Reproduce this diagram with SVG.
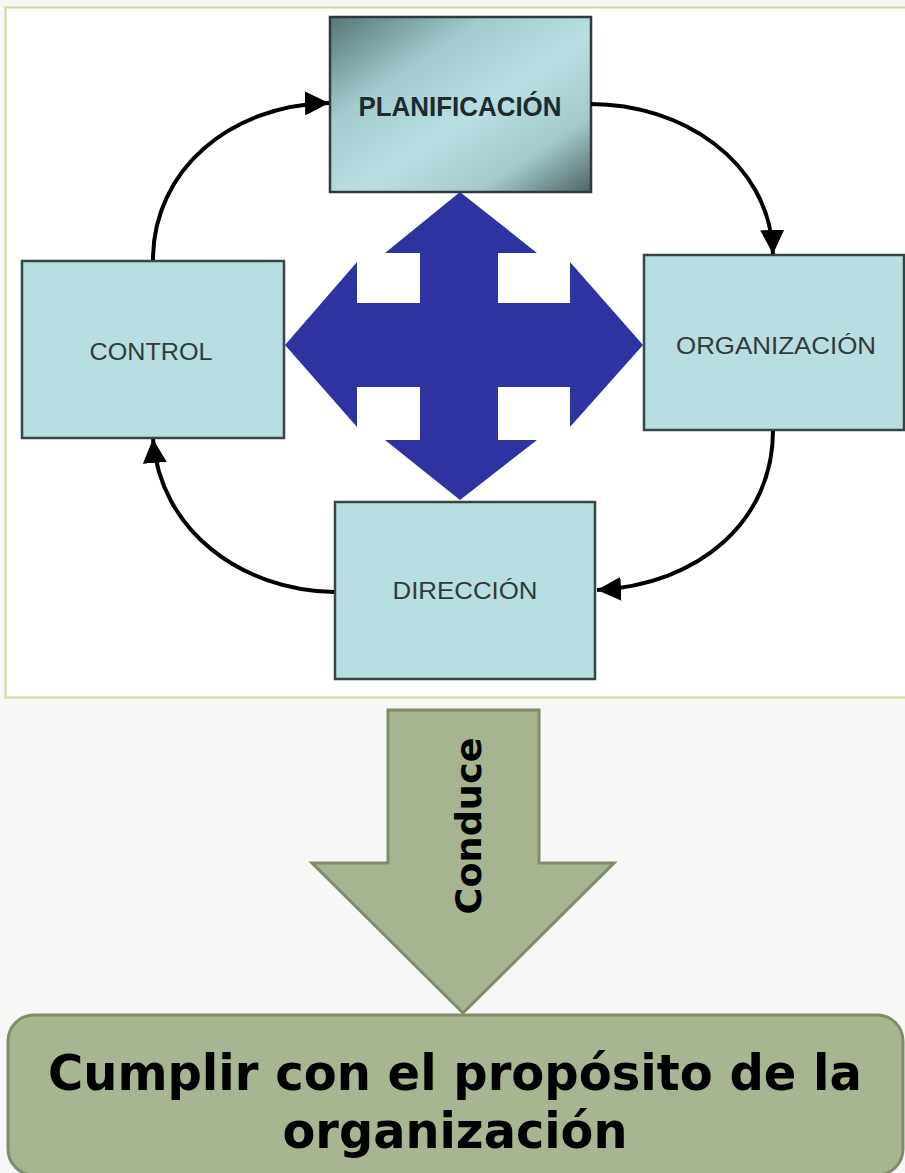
<svg xmlns="http://www.w3.org/2000/svg" width="905" height="1173" viewBox="0 0 905 1173">
<style>
.box{fill:#b9dee1;stroke:#364545;stroke-width:2.5}
.lbl{font-family:"Liberation Sans",Arial,sans-serif;font-size:24px;fill:#333a3a;text-anchor:middle}
.conn{fill:none;stroke:#000;stroke-width:4}
.big{font-family:"DejaVu Sans",Verdana,sans-serif;font-weight:bold;fill:#000;text-anchor:middle}
</style>
<defs>
<linearGradient id="gPlan" x1="0" y1="0" x2="1" y2="1">
<stop offset="0" stop-color="#577576"/>
<stop offset="0.3" stop-color="#a3cbce"/>
<stop offset="0.55" stop-color="#b9dfe2"/>
<stop offset="0.78" stop-color="#a6cacc"/>
<stop offset="1" stop-color="#4d6465"/>
</linearGradient>
<marker id="ah" viewBox="0 0 10 10" refX="10" refY="5" markerWidth="24" markerHeight="24" markerUnits="userSpaceOnUse" orient="auto">
<path d="M0,0 L10,5 L0,10 Z" fill="#000"/>
</marker>
</defs>
<rect x="0" y="0" width="905" height="1173" fill="#f7f7f6"/>
<rect id="frame" x="5.5" y="7.5" width="905" height="690" fill="#fff" stroke="#cdda9f" stroke-width="2"/>

<g id="cross">
<polygon points="460,192 537,253 498,253 498,303 570,303 570,262 643,345 570,427 570,387 498,387 498,440 537,440 460,500 385,440 420,440 420,387 357,387 357,427 285,345 357,262 357,303 420,303 420,253 385,253" fill="#2f33a2"/>
</g>

<g id="planificacion">
<rect x="330" y="17" width="261" height="175" fill="url(#gPlan)" stroke="#2f3a3a" stroke-width="2.5"/>
<text x="460" y="116" class="lbl" style="font-weight:bold;font-size:28px;fill:#1e2a2c" textLength="203" lengthAdjust="spacingAndGlyphs">PLANIFICACIÓN</text>
</g>
<g id="control">
<rect class="box" x="22" y="261" width="262" height="177"/>
<text x="151" y="360" class="lbl" textLength="123" lengthAdjust="spacingAndGlyphs">CONTROL</text>
</g>
<g id="organizacion">
<rect class="box" x="644" y="255" width="260" height="175"/>
<text x="776" y="354" class="lbl" textLength="200" lengthAdjust="spacingAndGlyphs">ORGANIZACIÓN</text>
</g>
<g id="direccion">
<rect class="box" x="335" y="502" width="260" height="177"/>
<text x="465" y="599" class="lbl" textLength="145" lengthAdjust="spacingAndGlyphs">DIRECCIÓN</text>
</g>

<g id="connectors">
<path class="conn" d="M153,260 C153,170 230,105 329,103" marker-end="url(#ah)"/>
<path class="conn" d="M591,104 C680,104 770,160 773,254" marker-end="url(#ah)"/>
<path class="conn" d="M773,431 C773,520 700,585 597,590" marker-end="url(#ah)"/>
<path class="conn" d="M334,592 C240,590 160,530 153,439" marker-end="url(#ah)"/>
</g>

<g id="conduce">
<polygon points="388,710 539,710 539,863 614,863 463,1013 312,863 388,863" fill="#a6b48f" stroke="#7e8d68" stroke-width="3"/>
<text class="big" transform="translate(481,826) rotate(-90)" x="0" y="0" style="font-size:36px" textLength="177" lengthAdjust="spacingAndGlyphs">Conduce</text>
</g>

<g id="resultado">
<rect x="8" y="1015" width="895" height="160" rx="26" ry="26" fill="#a7b590" stroke="#7f8e69" stroke-width="3"/>
<text class="big" x="455" y="1090" style="font-size:50px" textLength="814" lengthAdjust="spacingAndGlyphs">Cumplir con el propósito de la</text>
<text class="big" x="455" y="1148" style="font-size:50px" textLength="345" lengthAdjust="spacingAndGlyphs">organización</text>
</g>
</svg>
